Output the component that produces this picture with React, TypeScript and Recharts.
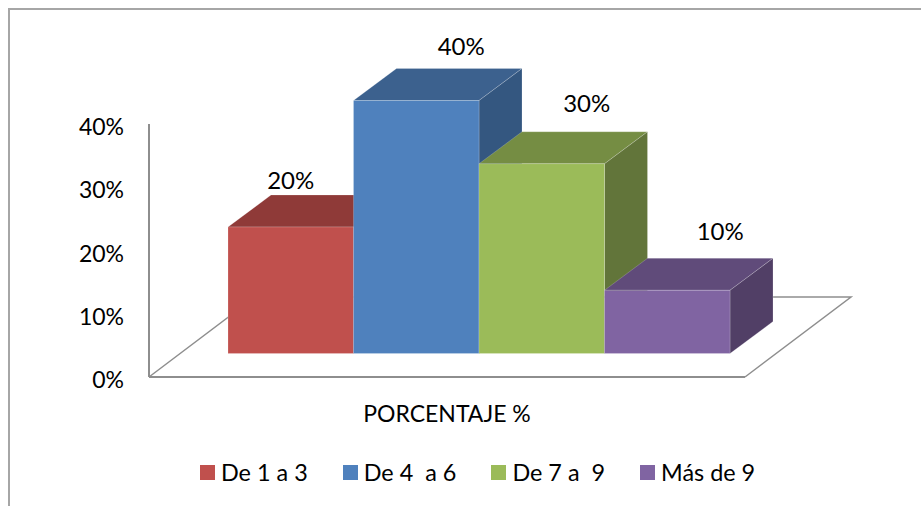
import { Bar, BarChart, Legend, XAxis, YAxis, usePlotArea } from "recharts";

const category = "PORCENTAJE %";
const seriesNames = ["De 1 a 3", "De 4  a 6", "De 7 a  9", "Más de 9"];
const seriesValues = [20, 40, 30, 10];
const yTicks = [0, 10, 20, 30, 40];

const frontColors = ["#C0504D", "#4F81BD", "#9BBB59", "#8064A2"];
const topColors = ["#8F3A38", "#3C618E", "#758D43", "#604B7A"];
const sideColors = ["#7F3331", "#345780", "#62753A", "#513F66"];

// label position relative to the top centre of each front face
const labelOffsets = [
  [0, -48],
  [45, -55],
  [45, -61],
  [53, -60],
];

const row: Record<string, string | number> = { category };
seriesNames.forEach((name, i) => {
  row[name] = seriesValues[i];
});
const data = [row];

const FONT = "Lato, Carlito, sans-serif";
const AXIS_COLOR = "#8E8E8E";
const TEXT_COLOR = "#000";

// 3D projection: the floor runs back along (106, -80), bars sit in the middle 40% of it
const FLOOR_DX = 106;
const FLOOR_DY = -80;
const SHIFT_X = 32;
const SHIFT_Y = -23.5;
const DEPTH_X = 43;
const DEPTH_Y = -32;

function Floor() {
  const plot = usePlotArea();
  if (!plot) return null;
  const left = plot.x;
  const right = plot.x + plot.width;
  const base = plot.y + plot.height;
  const pts = [
    [left, base],
    [left + FLOOR_DX, base + FLOOR_DY],
    [right + FLOOR_DX, base + FLOOR_DY],
    [right, base],
  ];
  return <polyline points={pts.map((p) => p.join(",")).join(" ")} fill="none" stroke={AXIS_COLOR} strokeWidth={1.5} />;
}

function Box3D(props: any, i: number) {
  const { x, y, width, height } = props;
  const fx = x + SHIFT_X;
  const fy = y + SHIFT_Y;
  const top = [
    [fx, fy],
    [fx + DEPTH_X, fy + DEPTH_Y],
    [fx + width + DEPTH_X, fy + DEPTH_Y],
    [fx + width, fy],
  ];
  const side = [
    [fx + width, fy],
    [fx + width + DEPTH_X, fy + DEPTH_Y],
    [fx + width + DEPTH_X, fy + height + DEPTH_Y],
    [fx + width, fy + height],
  ];
  const edge = "rgba(255,255,255,0.25)";
  return (
    <g>
      <polygon points={top.map((p) => p.join(",")).join(" ")} fill={topColors[i]} stroke={edge} strokeWidth={0.75} />
      <polygon points={side.map((p) => p.join(",")).join(" ")} fill={sideColors[i]} stroke={edge} strokeWidth={0.75} />
      <rect x={fx} y={fy} width={width} height={height} fill={frontColors[i]} stroke={edge} strokeWidth={0.75} />
    </g>
  );
}

function BoxLabel(props: any, i: number) {
  const { x, y, width, value } = props;
  const [dx, dy] = labelOffsets[i];
  return (
    <text
      x={x + SHIFT_X + width / 2 + dx}
      y={y + SHIFT_Y + dy}
      textAnchor="middle"
      dominantBaseline="central"
      fontFamily={FONT}
      fontSize={24}
      fill={TEXT_COLOR}
    >
      {value}%
    </text>
  );
}

function LegendRow() {
  return (
    <div style={{ display: "flex", alignItems: "center", height: 38, paddingLeft: 200, fontFamily: FONT, fontSize: 23.4, color: TEXT_COLOR }}>
      {seriesNames.map((name, i) => (
        <span key={name} style={{ display: "inline-flex", alignItems: "center", marginRight: 35 }}>
          <span style={{ width: 15, height: 15, background: frontColors[i], marginRight: 6 }} />
          <span style={{ whiteSpace: "pre" }}>{name}</span>
        </span>
      ))}
    </div>
  );
}

export default function App() {
  return (
    <div style={{ position: "absolute", left: 0, top: 0, width: 921, height: 506, background: "#fff" }}>
      <div
        style={{
          position: "absolute",
          left: 8,
          top: 8,
          right: 0,
          bottom: 0,
          borderLeft: "2px solid #A6A6A6",
          borderTop: "2px solid #A6A6A6",
        }}
      />
      <BarChart
        width={921}
        height={506}
        data={data}
        margin={{ top: 124, right: 176, bottom: 15, left: 0 }}
        barSize={125.5}
        barGap={0}
        style={{ position: "absolute", left: 0, top: 0 }}
      >
        <Floor />
        <XAxis
          dataKey="category"
          height={76}
          tickLine={false}
          tickMargin={23}
          axisLine={{ stroke: AXIS_COLOR, strokeWidth: 2 }}
          tick={{ fontFamily: FONT, fontSize: 23, fill: TEXT_COLOR }}
        />
        <YAxis
          width={149}
          domain={[0, 40]}
          ticks={yTicks}
          tickFormatter={(v: number) => `${v}%`}
          tickLine={false}
          tickMargin={19}
          axisLine={{ stroke: AXIS_COLOR, strokeWidth: 2 }}
          tick={{ fontFamily: FONT, fontSize: 23, fill: TEXT_COLOR, dy: 3 }}
        />
        <Legend verticalAlign="bottom" wrapperStyle={{ left: 0, width: 921 }} content={<LegendRow />} />
        {seriesNames.map((name, i) => (
          <Bar
            key={name}
            dataKey={name}
            isAnimationActive={false}
            shape={(p: any) => Box3D(p, i)}
            label={(p: any) => BoxLabel(p, i)}
          />
        ))}
      </BarChart>
    </div>
  );
}
